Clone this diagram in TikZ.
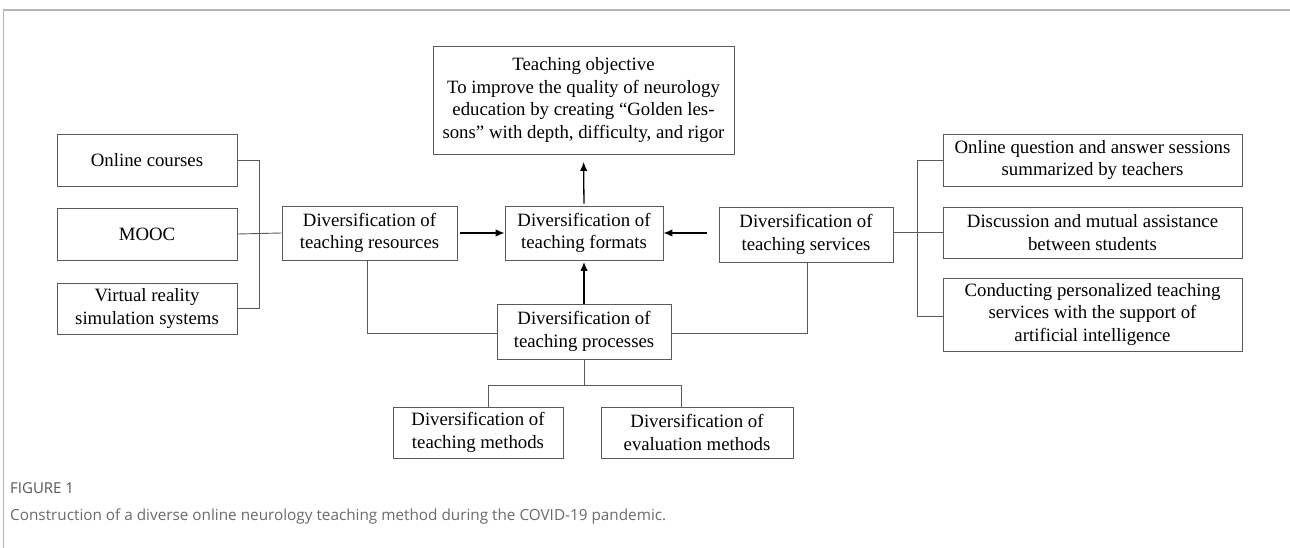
\documentclass[tikz,border=0pt]{standalone}
\usepackage{fontspec}
\setmainfont{Liberation Serif}
\newfontfamily\capfont{Open Sans}
\usetikzlibrary{arrows.meta}
\definecolor{boxline}{HTML}{5A5A5A}
\definecolor{frameline}{HTML}{B4B4B4}
\definecolor{capgray}{HTML}{6A6A6A}
\definecolor{figgray}{HTML}{555555}
\tikzset{
  bx/.style={draw=boxline, line width=0.9pt, inner sep=0pt, align=center,
    font=\fontsize{18.8}{22.5}\selectfont, text=black},
  conn/.style={draw=boxline, line width=0.9pt},
  arr/.style={draw=black, line width=1.3pt, -{Latex[length=9pt,width=7.5pt]}},
}
\begin{document}
\begin{tikzpicture}[x=1pt,y=-1pt]
\useasboundingbox (0,0) rectangle (1290,548);
\draw[frameline, line width=1.4pt] (3.5,548) -- (3.5,10) -- (1290,10);

% left column
\node[bx, minimum width=180pt, minimum height=52pt] (oc) at (147,160) {Online courses};
\node[bx, minimum width=180pt, minimum height=52pt] (mooc) at (147,234) {MOOC};
\node[bx, minimum width=180pt, minimum height=51pt] (vr) at (147,308.5) {Virtual reality\\simulation systems};

% middle
\node[bx, minimum width=175pt, minimum height=54pt] (res) at (369.5,233) {Diversification of\\teaching resources};
\node[bx, minimum width=158pt, minimum height=54pt] (fmt) at (584,233) {Diversification of\\teaching formats};
\node[bx, minimum width=174pt, minimum height=55pt] (srv) at (806,234.5) {Diversification of\\teaching services};
\node[bx, minimum width=301pt, minimum height=108pt] (obj) at (583.5,100) {Teaching objective\\To improve the quality of neurology\\education by creating “Golden les-\\sons” with depth, difficulty, and rigor};
\node[bx, minimum width=174pt, minimum height=55pt] (proc) at (584,331.5) {Diversification of\\teaching processes};
\node[bx, minimum width=170pt, minimum height=51pt] (tm) at (478,432.5) {Diversification of\\teaching methods};
\node[bx, minimum width=192pt, minimum height=51pt] (em) at (697,432.5) {Diversification of\\evaluation methods};

% right column
\node[bx, minimum width=299pt, minimum height=52pt] (qa) at (1092.5,160) {Online question and answer sessions\\summarized by teachers};
\node[bx, minimum width=299pt, minimum height=51pt] (disc) at (1092.5,232.5) {Discussion and mutual assistance\\between students};
\node[bx, minimum width=299pt, minimum height=73pt] (cond) at (1092.5,314.5) {Conducting personalized teaching\\services with the support of\\artificial intelligence};

% left bracket
\coordinate (lb1) at (259,160);
\coordinate (lb2) at (259,308.5);
\draw[conn] (oc.east) -- (lb1) -- (lb2) -- (vr.east);
\draw[conn] (mooc.east) -- (res.west);

% right bracket
\coordinate (rb1) at (917,160);
\coordinate (rb2) at (917,316);
\draw[conn] (qa.west) -- (rb1) -- (rb2) -- (rb2 -| cond.west);
\draw[conn] (srv.east |- disc.west) -- (disc.west);

% arrows
\draw[arr, shorten <=3pt] (res.east) -- (fmt.west);
\draw[arr, shorten <=12pt] (srv.west |- fmt.west) -- (fmt.east);
\draw[arr, shorten <=2pt, shorten >=7.5pt] (fmt.north) -- (obj.south);
\draw[arr, shorten >=1.5pt] (proc.north) -- (fmt.south);

% process links
\coordinate (pl) at (367,333);
\coordinate (pr) at (807,333);
\draw[conn] (res.south -| pl) -- (pl) -- (pl -| proc.west);
\draw[conn] (pr -| proc.east) -- (pr) -- (srv.south -| pr);

% bottom tree
\coordinate (tj) at (584,385);
\coordinate (tl) at (488,385);
\coordinate (tr) at (681,385);
\draw[conn] (proc.south) -- (tj);
\draw[conn] (tm.north -| tl) -- (tl) -- (tr) -- (em.north -| tr);

% caption
\node[anchor=west, inner sep=0pt, text=figgray, font=\capfont\fontsize{15}{17}\selectfont] (fig) at (10,488) {FIGURE 1};
\node[anchor=west, inner sep=0pt, text=capgray, font=\capfont\fontsize{15.3}{18}\selectfont] (cap) at (10,516) {Construction of a diverse online neurology teaching method during the COVID-19 pandemic.};
\end{tikzpicture}
\end{document}
